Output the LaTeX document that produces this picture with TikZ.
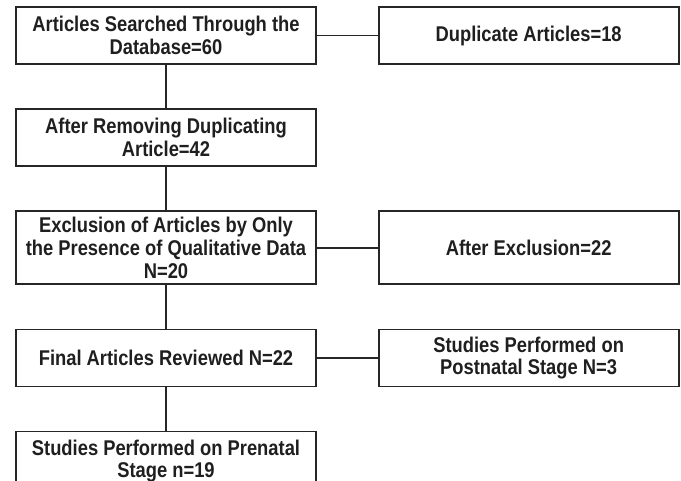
\documentclass[tikz,border=0pt]{standalone}
\usepackage{fontspec}
\setmainfont{Liberation Sans}
\newfontfamily\boxfont{Liberation Sans}[FakeStretch=0.86]
\usetikzlibrary{positioning}

\begin{document}
\begin{tikzpicture}[
  x=0.75pt, y=-0.75pt,
  node distance=32.6pt and 45.75pt,
  stagebox/.style={draw=black!85, line width=1.25pt, fill=white,
    minimum width=225pt, minimum height=42.75pt,
    inner sep=3pt, align=center, text=black!88,
    font=\boxfont\bfseries\fontsize{16}{17}\selectfont},
  tallbox/.style={stagebox, minimum height=54.75pt},
  link/.style={draw=black!85, line width=1.2pt}
]
  \useasboundingbox (0,0) rectangle (681,481);

  % left column
  \node[stagebox] (search) at (166,35.5) {Articles Searched Through the\\Database=60};
  \node[stagebox] (removed) [below=of search] {After Removing Duplicating\\Article=42};
  \node[tallbox] (exclusion) [below=of removed] {Exclusion of Articles by Only\\the Presence of Qualitative Data\\N=20};
  \node[stagebox] (final) [below=of exclusion] {Final Articles Reviewed N=22};
  \node[stagebox, minimum height=44pt] (prenatal) [below=of final] {Studies Performed on Prenatal\\Stage n=19};

  % right column
  \node[stagebox] (duplicate) [right=of search] {Duplicate Articles=18};
  \node[tallbox] (afterexcl) [right=of exclusion] {After Exclusion=22};
  \node[stagebox] (postnatal) [right=of final] {Studies Performed on\\Postnatal Stage N=3};

  \draw[link] (search) -- (removed);
  \draw[link] (removed) -- (exclusion);
  \draw[link] (exclusion) -- (final);
  \draw[link] (final) -- (prenatal);
  \draw[link] (search) -- (duplicate);
  \draw[link] (exclusion) -- (afterexcl);
  \draw[link] (final) -- (postnatal);
\end{tikzpicture}
\end{document}
